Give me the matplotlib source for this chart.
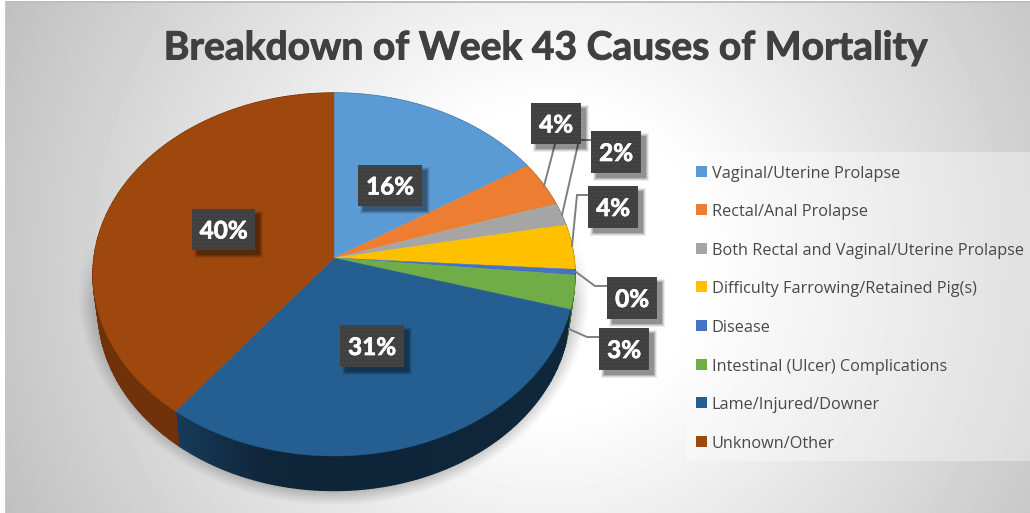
import numpy as np
import matplotlib
matplotlib.use("Agg")
import matplotlib.pyplot as plt
import matplotlib.patheffects as pe
from matplotlib.patches import Rectangle

title = "Breakdown of Week 43 Causes of Mortality"
categories = ["Vaginal/Uterine Prolapse", "Rectal/Anal Prolapse",
              "Both Rectal and Vaginal/Uterine Prolapse",
              "Difficulty Farrowing/Retained Pig(s)", "Disease",
              "Intestinal (Ulcer) Complications", "Lame/Injured/Downer",
              "Unknown/Other"]
values = [16, 4, 2, 4, 0.5, 3, 31, 39.5]
value_labels = ["16%", "4%", "2%", "4%", "0%", "3%", "31%", "40%"]
colors = ["#5b9bd5", "#ed7d31", "#a5a5a5", "#ffc000", "#4472c4", "#70ad47", "#255e91", "#9e480e"]

W, H = 1030, 513
CX, CY, RX, RY_C, K, DEPTH, RX_B = 334, 258, 240, 180, 0.0909, 34.5, 235

fig = plt.figure(figsize=(W / 100, H / 100), dpi=100)
ax = fig.add_axes([0, 0, 1, 1])

# background: radial gradient + soft shadow beneath the pie
yy, xx = np.mgrid[0:H, 0:W] + 0.5
d = np.hypot(xx - 550, yy - 260)
bg = 255 - np.clip(d - 150, 0, None) * 0.14
rx_s = np.where(xx > CX, 256, 256)
r = np.hypot((xx - CX) / rx_s, (yy - 292) / 214)
sh = np.clip((1 - r) / 0.09, 0, 1) ** 1.1 * np.clip((yy - 235) / 70, 0, 1)
bg = bg * (1 - 0.30 * sh)
bg[:, :5] = 255
bg[:, 5:6] = 200
bg[:1, :] = 255
bg[1:3, 5:] = 190
ax.imshow(bg, cmap="gray", vmin=0, vmax=255, extent=(0, W, H, 0), aspect="auto", zorder=0, interpolation="nearest")


def project(theta_deg, rx=RX, dy=0.0):
    t = np.radians(theta_deg)
    X, Y = np.sin(t), np.cos(t)
    w = 1 + K * Y
    return CX + rx * X / w, CY + dy - RY_C * Y / w


edges = np.concatenate([[0], np.cumsum(values)]) / np.sum(values) * 360

# sides
for i, col in enumerate(colors):
    a0, a1 = edges[i], edges[i + 1]
    ths = np.append(np.arange(a0, a1, 1.0), a1)
    rgb = np.array(matplotlib.colors.to_rgb(col))
    for t0, t1 in zip(ths[:-1], ths[1:]):
        if categories[i].startswith("Lame"):
            s = np.interp(t0, [106, 180, 195, 217], [0.42, 0.38, 0.40, 0.62])
        else:
            s = 0.70
        x0, y0 = project(t0)
        x1, y1 = project(t1)
        x2, y2 = project(t1, RX_B, DEPTH)
        x3, y3 = project(t0, RX_B, DEPTH)
        ax.fill([x0, x1, x2, x3], [y0, y1, y2, y3], color=rgb * s, lw=1.0, zorder=2)

# top faces
for i, col in enumerate(colors):
    ths = np.linspace(edges[i], edges[i + 1], max(int(edges[i + 1] - edges[i]) * 2, 4))
    px, py = project(ths)
    ax.fill(np.r_[CX, px], np.r_[CY, py], color=col, lw=0.3, zorder=3)

# leader lines
leaders = [
    [(555, 144), (544, 186)],
    [(591, 140), (579, 140), (562, 215)],
    [(588, 195), (577, 195), (572, 246)],
    [(576, 272), (595, 286), (607, 286)],
    [(569, 329), (587, 337), (599, 337)],
]
for seg in leaders:
    ax.plot(*zip(*seg), color="#7f7f7f", lw=1.4, zorder=4, solid_joinstyle="miter")

# data label boxes (x0, y0, x1, y1) in category order
boxes = [(358, 165, 422, 206), (531, 103, 581, 144), (591, 131, 641, 173), (588, 186, 638, 228),
         (607, 277, 657, 319), (599, 328, 649, 370), (340, 325, 404, 367), (192, 209, 255, 250)]
for (x0, y0, x1, y1), lab in zip(boxes, value_labels):
    for grow, al in zip((3, 2, 1, 0), (0.07, 0.10, 0.14, 0.2)):
        ax.add_patch(Rectangle((x0 + 5 - grow, y0 + 5 - grow), x1 - x0 + 2 * grow, y1 - y0 + 2 * grow,
                               fc="k", ec="none", alpha=al, zorder=5))
    w, h = x1 - x0, y1 - y0
    tex = np.full((h, w), 64.0)
    for row in range(1, h, 4):
        shift = 1 if (row // 4) % 2 == 0 else 3
        tex[row:row + 1, shift::4] = 84
    ax.imshow(tex, cmap="gray", vmin=0, vmax=255, extent=(x0, x1, y1, y0), aspect="auto",
              zorder=6, interpolation="nearest")
    ax.text((x0 + x1) / 2, (y0 + y1) / 2 + 1.5, lab, color="white", fontsize=17.5, fontweight="bold",
            family="Lato", ha="center", va="center", zorder=7,
            path_effects=[pe.withStroke(linewidth=0.5, foreground="white")])

# legend
ax.add_patch(Rectangle((686, 152), 344, 309, fc="white", ec="none", alpha=0.35, zorder=1))
legend_y = [172, 210, 249, 287, 326, 365, 403, 442]
for y, cat, col in zip(legend_y, categories, colors):
    ax.add_patch(Rectangle((696, y - 6), 11, 11, fc=col, ec="none", zorder=2))
    ax.text(711.5, y, cat, color="#484848", fontsize=11.7, family="Open Sans", ha="left", va="center_baseline", zorder=2)

ax.text(545.5, 48, title, color="#404040", fontsize=28.1, fontweight="bold", family="Lato",
        ha="center", va="center", zorder=2,
        path_effects=[pe.withStroke(linewidth=0.7, foreground="#404040")])

ax.set_xlim(0, W)
ax.set_ylim(H, 0)
ax.axis("off")
fig.savefig("out.png", dpi=100)
